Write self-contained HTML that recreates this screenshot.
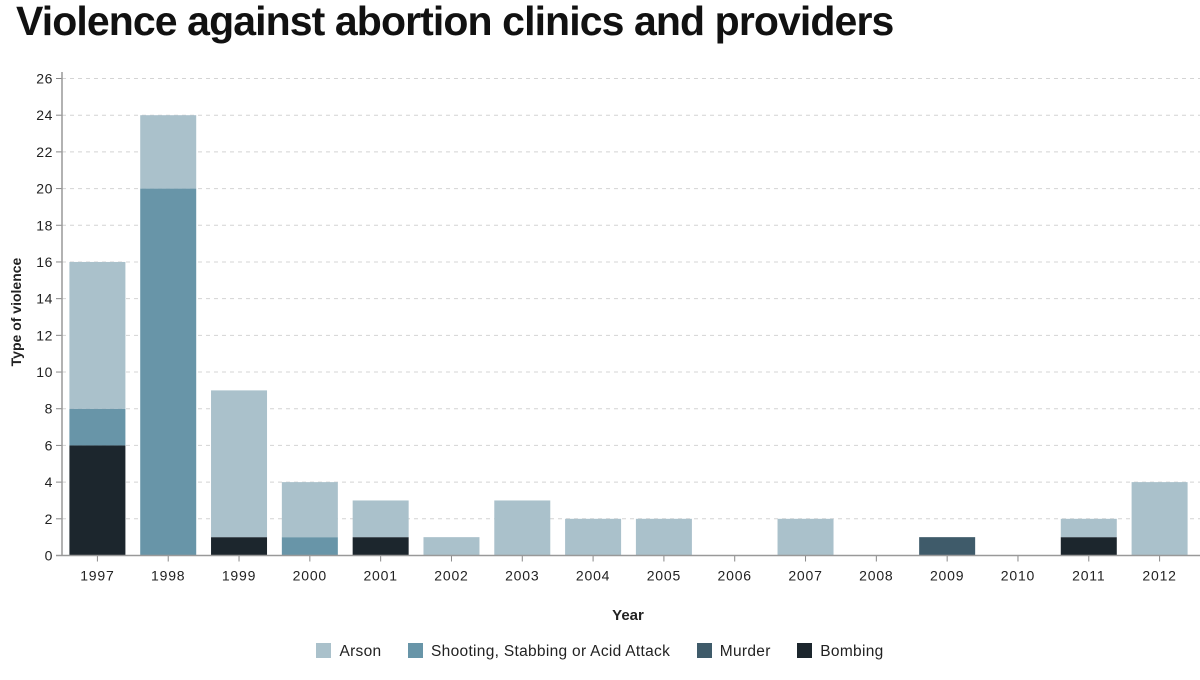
<!DOCTYPE html>
<html><head><meta charset="utf-8"><style>
body{margin:0;background:#fff;width:1200px;height:680px;overflow:hidden;font-family:"Liberation Sans",sans-serif}
h1{position:absolute;left:16px;top:-2px;margin:0;font-size:41px;font-weight:900;letter-spacing:-0.9px;color:#111}
#legend{position:absolute;top:643px;left:0;width:1200px;text-align:center;font-size:15.5px;color:#222;letter-spacing:0.3px}
.li{display:inline-block;margin:0 11px;vertical-align:middle}
.sw{display:inline-block;width:15px;height:15px;vertical-align:-2px;margin-right:8px}
</style></head><body>
<h1>Violence against abortion clinics and providers</h1>
<svg id="chart" width="1200" height="640" style="position:absolute;left:0;top:0" font-family="Liberation Sans, sans-serif"></svg>
<div id="legend">
<span class="li"><span class="sw" style="background:#aac1cb"></span>Arson</span>
<span class="li"><span class="sw" style="background:#6895a8"></span>Shooting, Stabbing or Acid Attack</span>
<span class="li"><span class="sw" style="background:#3f5b6a"></span>Murder</span>
<span class="li"><span class="sw" style="background:#1c262d"></span>Bombing</span>
</div>
<script>
const years=["1997","1998","1999","2000","2001","2002","2003","2004","2005","2006","2007","2008","2009","2010","2011","2012"];
const bombing=[6,0,1,0,1,0,0,0,0,0,0,0,0,0,1,0];
const murder=[0,0,0,0,0,0,0,0,0,0,0,0,1,0,0,0];
const shooting=[2,20,0,1,0,0,0,0,0,0,0,0,0,0,0,0];
const arson=[8,4,8,3,2,1,3,2,2,0,2,0,0,0,1,4];
const yTicks=[0,2,4,6,8,10,12,14,16,18,20,22,24,26];
const svg=document.getElementById('chart');const NS='http://www.w3.org/2000/svg';
const X0=62,X1=1195,Y0=555.5,Y1=78.5,YMAX=26;
const step=(X1-X0)/years.length,bw=56;
const y=v=>Y0-(v/YMAX)*(Y0-Y1);
const xc=i=>X0+step*(i+0.5);
function el(t,a,p){const e=document.createElementNS(NS,t);for(const k in a)e.setAttribute(k,a[k]);(p||svg).appendChild(e);return e;}
yTicks.forEach(t=>{
 if(t>0){const g=el('line',{x1:X0,x2:1200,y1:y(t),y2:y(t),stroke:'#d4d4d4','stroke-dasharray':'4,4'});
 
 }
 el('line',{x1:X0-6,x2:X0,y1:y(t),y2:y(t),stroke:'#888'});
 const l=el('text',{x:X0-9,y:y(t)+5,'text-anchor':'end','font-size':14,fill:'#222','letter-spacing':0.6});l.textContent=t;
 
 
});
const series=[[bombing,'#1c262d','bombing'],[murder,'#3f5b6a','murder'],[shooting,'#6895a8','shooting'],[arson,'#aac1cb','arson']];
years.forEach((yr,i)=>{
 let acc=0;
 series.forEach(([arr,c,n])=>{const v=arr[i];if(v>0){const r=el('rect',{x:xc(i)-bw/2,y:y(acc+v),width:bw,height:y(acc)-y(acc+v),fill:c});
 
 }acc+=v;});
 el('line',{x1:xc(i),x2:xc(i),y1:Y0,y2:Y0+6,stroke:'#888'});
 const l=el('text',{x:xc(i),y:Y0+25,'text-anchor':'middle','font-size':14,fill:'#222','letter-spacing':0.8});l.textContent=yr;
 
 
});
el('line',{x1:X0,x2:X0,y1:72,y2:Y0,stroke:'#999','stroke-width':1.5});
el('line',{x1:X0-6,x2:1200,y1:Y0,y2:Y0,stroke:'#999','stroke-width':1.5});
const xt=el('text',{x:628,y:620,'text-anchor':'middle','font-size':15,'font-weight':'bold',fill:'#222'});xt.textContent='Year';


const yt=el('text',{x:0,y:0,transform:'translate(21,312) rotate(-90)','text-anchor':'middle','font-size':14,'font-weight':'bold',fill:'#222'});yt.textContent='Type of violence';


</script>
</body></html>
